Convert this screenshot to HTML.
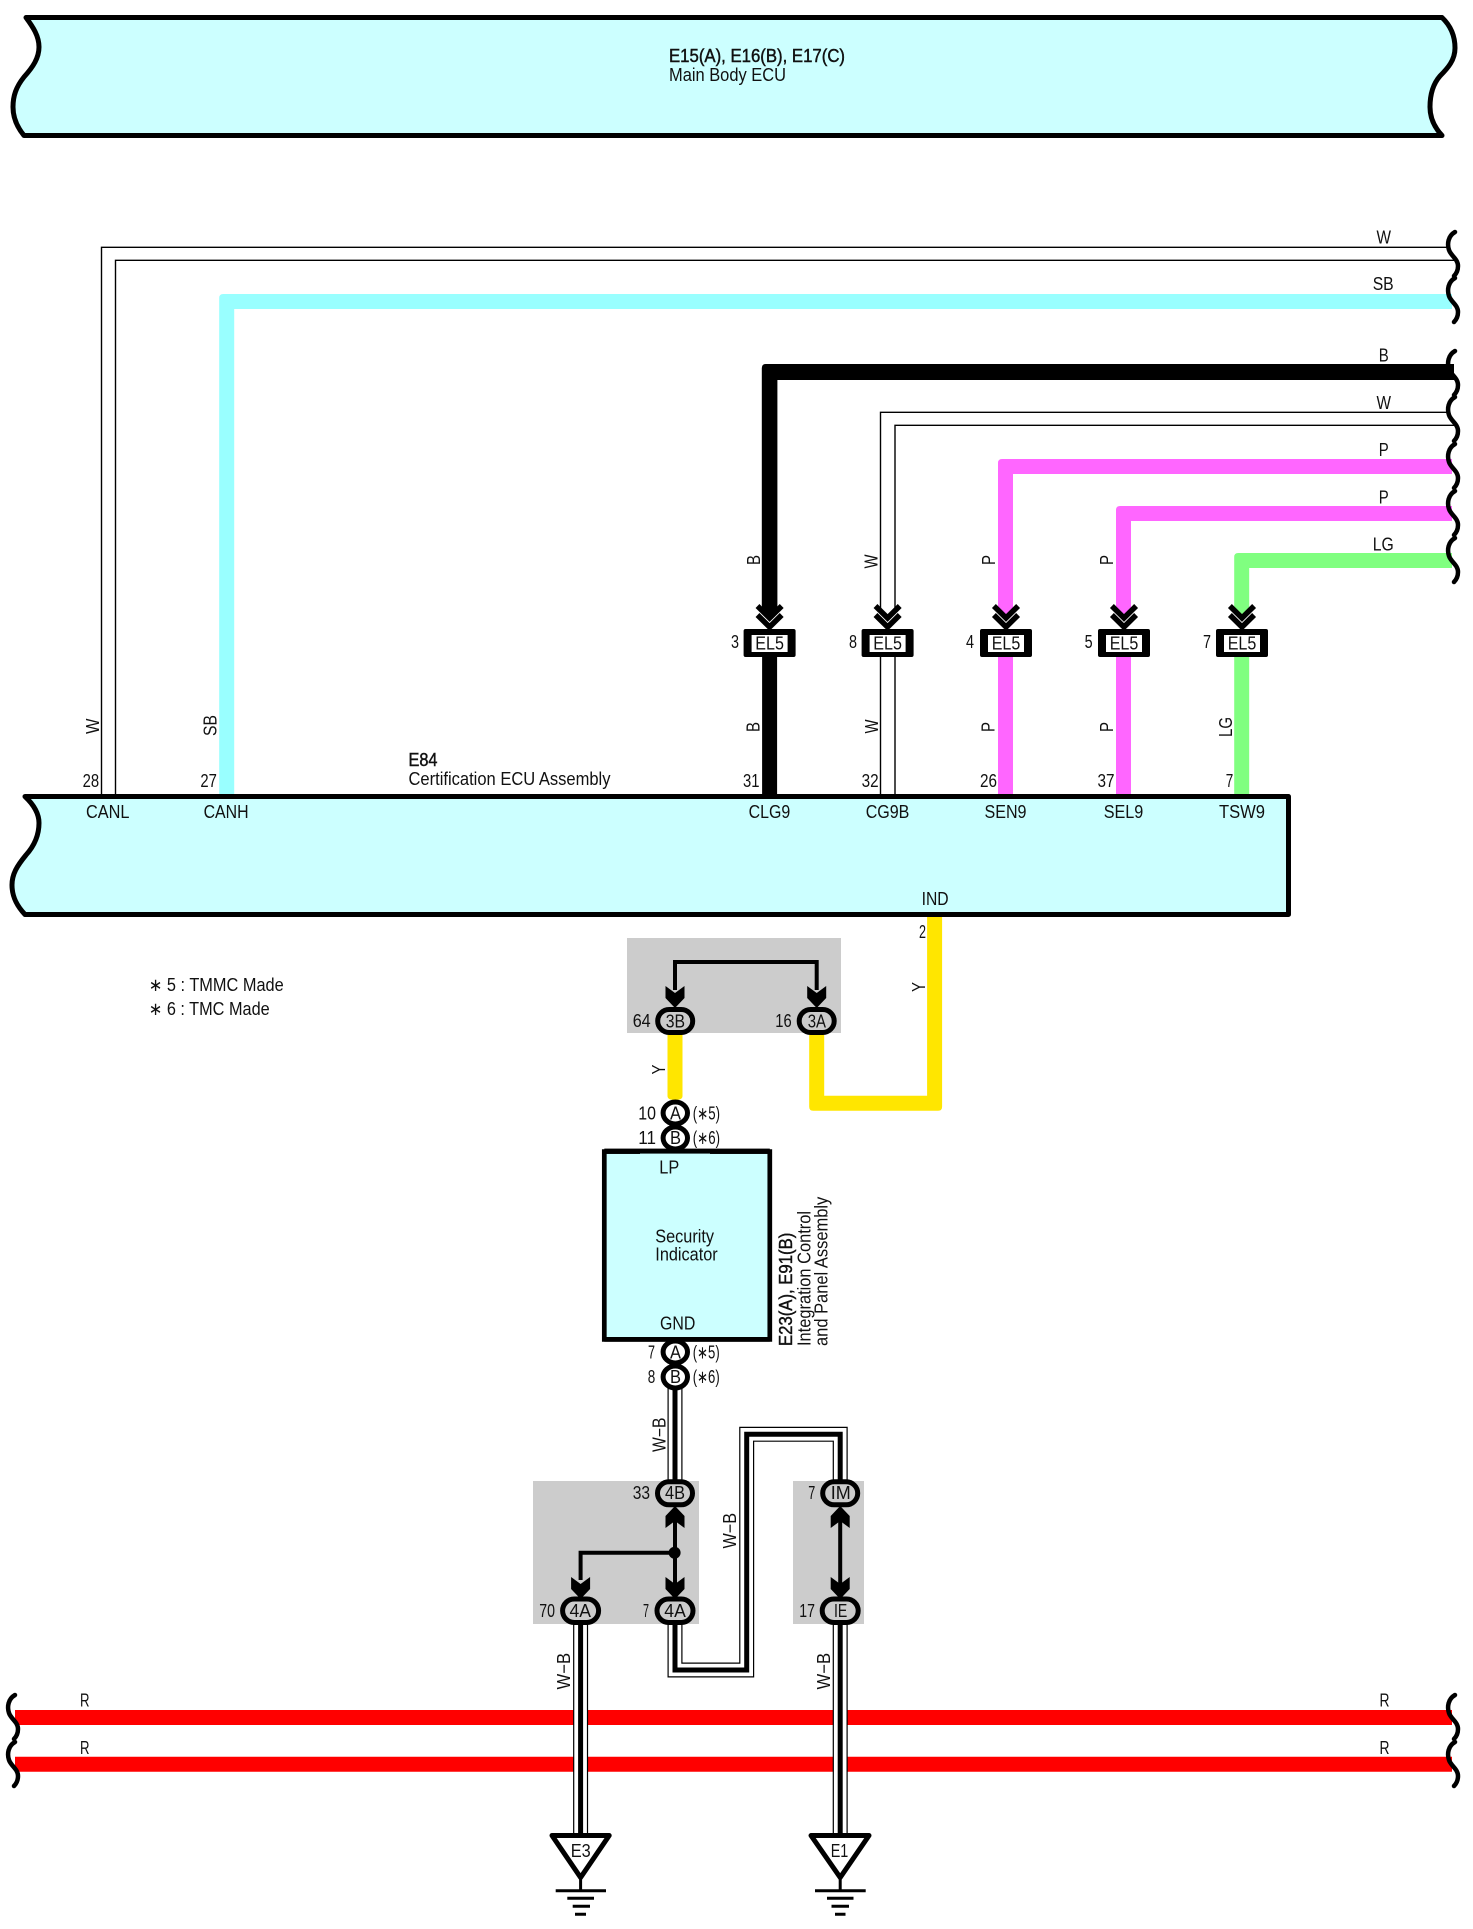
<!DOCTYPE html>
<html><head><meta charset="utf-8"><title>Wiring diagram</title>
<style>
html,body{margin:0;padding:0;background:#fff}
svg{display:block}
text{font-family:"Liberation Sans",sans-serif;font-size:18px;fill:#111}
.b{stroke:#111;stroke-width:.45px}
</style></head><body>
<svg xmlns="http://www.w3.org/2000/svg" width="1473" height="1929" viewBox="0 0 1473 1929">
<rect width="1473" height="1929" fill="#fff"/>

<!-- Main Body ECU band -->
<path d="M26,17.5 H1442 C1452,27 1455,38 1455,48 C1455,60 1448,68 1440,76 C1433,84 1430,95 1430,107 C1430,118 1435,128 1442,135.5 H24 C17,127 13,118 13,107 C13,96 16,87 24,77 C33,67 39,58 39,47 C39,36 33,27 26,17.5 Z" fill="#CCFFFF" stroke="#000" stroke-width="5" stroke-linejoin="round"/>
<!-- E84 band -->
<path d="M25,796.5 H1288.5 V914.5 H25 C17,906 12,897 12,885 C12,874 17,866 26,855 C35,845 39,835 39,823 C39,813 33,804 25,796.5 Z" fill="#CCFFFF" stroke="#000" stroke-width="5" stroke-linejoin="round"/>

<!-- gray boxes -->
<rect x="627" y="938" width="214" height="95" fill="#CCCCCC"/>
<rect x="533" y="1481" width="166" height="143" fill="#CCCCCC"/>
<rect x="793" y="1481" width="71" height="143" fill="#CCCCCC"/>

<!-- wires upper -->
<path d="M1448,247.3 H101.5 V794 M1455,260.3 H115.5 V794" fill="none" stroke="#000" stroke-width="1.4"/>
<path d="M1452,294 H223.2 Q219.2,294 219.2,298 V794 H234.2 V309 H1452 Z" fill="#99FFFF"/>
<path d="M1454,364 H765.8 Q761.8,364 761.8,368 V612 H777.4 V380 H1454 Z" fill="#000"/>
<path d="M769.6,657 V794" fill="none" stroke="#000" stroke-width="15"/>
<path d="M1448,412.3 H880.5 V608 M1455,425.3 H895 V608 M880.5,657 V794 M895,657 V794" fill="none" stroke="#000" stroke-width="1.4"/>
<path d="M1452,459 H1002 Q998,459 998,463 V610 H1013 V474 H1452 Z" fill="#FF66FF"/>
<path d="M1005.5,657 V794" fill="none" stroke="#FF66FF" stroke-width="15"/>
<path d="M1452,506 H1120 Q1116,506 1116,510 V610 H1131 V521 H1452 Z" fill="#FF66FF"/>
<path d="M1123.5,657 V794" fill="none" stroke="#FF66FF" stroke-width="15"/>
<path d="M1452,553 H1238.2 Q1234.2,553 1234.2,557 V610 H1249.2 V568 H1452 Z" fill="#80FF80"/>
<path d="M1241.7,657 V794" fill="none" stroke="#80FF80" stroke-width="15"/>
<!-- yellow -->
<path d="M667.5,1033 V1096 Q667.5,1100 675,1100 Q682.5,1100 682.5,1096 V1033 Z" fill="#FFE600"/>
<path d="M809.2,1033 V1106.8 Q809.2,1110.8 813.2,1110.8 H938.1 Q942.1,1110.8 942.1,1106.8 V917 H927.1 V1095.8 H824.2 V1033 Z" fill="#FFE600"/>

<!-- wire tips in chevrons -->
<g>
<path d="M762.1,610 H777.1 V613 L769.6,621 L762.1,613 Z" fill="#000"/>
<path d="M998,610 H1013 V613 L1005.5,621 L998,613 Z" fill="#FF66FF"/>
<path d="M1116,610 H1131 V613 L1123.5,621 L1116,613 Z" fill="#FF66FF"/>
<path d="M1234.2,610 H1249.2 V613 L1241.7,621 L1234.2,613 Z" fill="#80FF80"/>
</g>

<!-- EL5 connectors -->
<g fill="none" stroke="#000" stroke-width="5.5">
<path d="M757.5,606 L769.6,618 L781.7,606 M757.5,615 L769.6,627 L781.7,615"/>
<path d="M875.5,606 L887.6,618 L899.7,606 M875.5,615 L887.6,627 L899.7,615"/>
<path d="M993.9,606 L1006,618 L1018.1,606 M993.9,615 L1006,627 L1018.1,615"/>
<path d="M1111.9,606 L1124,618 L1136.1,606 M1111.9,615 L1124,627 L1136.1,615"/>
<path d="M1229.9,606 L1242,618 L1254.1,606 M1229.9,615 L1242,627 L1254.1,615"/>
</g>
<g fill="#000">
<rect x="743.6" y="629" width="52" height="28" rx="2"/>
<rect x="861.6" y="629" width="52" height="28" rx="2"/>
<rect x="980" y="629" width="52" height="28" rx="2"/>
<rect x="1098" y="629" width="52" height="28" rx="2"/>
<rect x="1216" y="629" width="52" height="28" rx="2"/>
</g>
<g fill="#fff">
<rect x="751.6" y="635" width="36" height="17"/>
<rect x="869.6" y="635" width="36" height="17"/>
<rect x="988" y="635" width="36" height="17"/>
<rect x="1106" y="635" width="36" height="17"/>
<rect x="1224" y="635" width="36" height="17"/>
</g>

<!-- red wires -->
<path d="M15,1717.5 H1452 M15,1764.2 H1452" stroke="#FF0000" stroke-width="15" fill="none"/>

<!-- W-B double wires -->
<g fill="none" stroke-linejoin="miter">
<path d="M675,1385 V1482 M675,1622 V1670 H746.7 V1434.3 H840.2 V1482 M580.6,1622 V1836 M840.2,1622 V1836" stroke="#000" stroke-width="15"/>
<path d="M675,1385 V1482 M675,1622 V1670 H746.7 V1434.3 H840.2 V1482 M580.6,1622 V1836 M840.2,1622 V1836" stroke="#fff" stroke-width="12.6"/>
<path d="M675,1385 V1482 M675,1622 V1670 H746.7 V1434.3 H840.2 V1482 M580.6,1622 V1836 M840.2,1622 V1836" stroke="#000" stroke-width="5"/>
</g>

<!-- black internal wires -->
<g fill="none" stroke="#000" stroke-width="4">
<path d="M675,990 V962 H816.7 V990"/>
<path d="M675,1510 V1595 M675,1552.7 H580.6 V1580"/>
<path d="M840.2,1510 V1595"/>
</g>
<circle cx="674.6" cy="1552.7" r="6" fill="#000"/>
<g fill="#000">
<path d="M665.5,986 L675,993 L684.5,986 V998 L675,1008 L665.5,998 Z"/>
<path d="M807.2,986 L816.7,993 L826.2,986 V998 L816.7,1008 L807.2,998 Z"/>
<path d="M571.1,1577 L580.6,1584 L590.1,1577 V1589 L580.6,1599 L571.1,1589 Z"/>
<path d="M665.5,1577 L675,1584 L684.5,1577 V1589 L675,1599 L665.5,1589 Z"/>
<path d="M830.7,1577 L840.2,1584 L849.7,1577 V1589 L840.2,1599 L830.7,1589 Z"/>
<path d="M665.5,1528 L675,1521 L684.5,1528 V1516 L675,1506 L665.5,1516 Z"/>
<path d="M830.7,1528 L840.2,1521 L849.7,1528 V1516 L840.2,1506 L830.7,1516 Z"/>
</g>

<!-- ovals -->
<g fill="#CCCCCC" stroke="#000" stroke-width="5">
<rect x="657.7" y="1009.5" width="35" height="23" rx="11.5"/>
<rect x="799.2" y="1009.5" width="35" height="23" rx="11.5"/>
<rect x="657.5" y="1481.8" width="35" height="23" rx="11.5"/>
<rect x="822.7" y="1481.8" width="35" height="23" rx="11.5"/>
<rect x="562.6" y="1599" width="36" height="23.5" rx="11.7"/>
<rect x="657" y="1599" width="36" height="23.5" rx="11.7"/>
<rect x="822.2" y="1599" width="36" height="23.5" rx="11.7"/>
</g>

<!-- Security Indicator box -->
<rect x="604.3" y="1151.6" width="165.5" height="187.8" fill="#CCFFFF" stroke="#000" stroke-width="4.7"/>

<!-- round connectors -->
<g fill="#fff" stroke="#000" stroke-width="5">
<ellipse cx="675.3" cy="1113" rx="12.2" ry="11"/>
<ellipse cx="675.3" cy="1138" rx="12.2" ry="11"/>
<ellipse cx="675.3" cy="1352" rx="12.2" ry="11"/>
<ellipse cx="675.3" cy="1377" rx="12.2" ry="11"/>
</g>
<rect x="604.3" y="1148.6" width="165.5" height="5" fill="#000"/>
<rect x="640" y="1153.6" width="70" height="4" fill="#CCFFFF"/>
<rect x="604.3" y="1337" width="165.5" height="4.7" fill="#000"/>

<!-- ground symbols -->
<g fill="#fff" stroke="#000" stroke-width="5" stroke-linejoin="round">
<path d="M552,1835.5 H609.2 L580.6,1877.5 Z"/>
<path d="M811,1835.5 H869 L840.2,1877.5 Z"/>
</g>
<g fill="none" stroke="#000" stroke-width="3">
<path d="M580.6,1878 V1891 M555.7,1890.7 H606 M567.3,1898.3 H594 M572.7,1906.3 H590 M575,1914.3 H586"/>
<path d="M840.2,1878 V1891 M815,1890.7 H865.7 M827,1898.3 H853.5 M831.5,1906.3 H849 M835,1914.3 H845.5"/>
</g>

<!-- wavy ends -->
<g fill="none" stroke="#000" stroke-width="4.5" stroke-linecap="round">
<path transform="translate(1448,232)" d="M7,0 C0,4 -1,12 1,18 C3,24 10,27 10,34 C10,39 8,42 6,44"/>
<path transform="translate(1448,278)" d="M7,0 C0,4 -1,12 1,18 C3,24 10,27 10,34 C10,39 8,42 6,44"/>
<path transform="translate(1448,351)" d="M7,0 C0,4 -1,12 1,18 C3,24 10,27 10,34 C10,39 8,42 6,44"/>
<path transform="translate(1448,397)" d="M7,0 C0,4 -1,12 1,18 C3,24 10,27 10,34 C10,39 8,42 6,44"/>
<path transform="translate(1448,444)" d="M7,0 C0,4 -1,12 1,18 C3,24 10,27 10,34 C10,39 8,42 6,44"/>
<path transform="translate(1448,491)" d="M7,0 C0,4 -1,12 1,18 C3,24 10,27 10,34 C10,39 8,42 6,44"/>
<path transform="translate(1448,538)" d="M7,0 C0,4 -1,12 1,18 C3,24 10,27 10,34 C10,39 8,42 6,44"/>
<path transform="translate(8,1695)" d="M7,0 C0,4 -1,12 1,18 C3,24 10,27 10,34 C10,39 8,42 6,44"/>
<path transform="translate(8,1742)" d="M7,0 C0,4 -1,12 1,18 C3,24 10,27 10,34 C10,39 8,42 6,44"/>
<path transform="translate(1448,1695)" d="M7,0 C0,4 -1,12 1,18 C3,24 10,27 10,34 C10,39 8,42 6,44"/>
<path transform="translate(1448,1742)" d="M7,0 C0,4 -1,12 1,18 C3,24 10,27 10,34 C10,39 8,42 6,44"/>
</g>

<!-- titles -->
<text class="b" x="669" y="62" textLength="176" lengthAdjust="spacingAndGlyphs">E15(A), E16(B), E17(C)</text>
<text x="669" y="81" textLength="117" lengthAdjust="spacingAndGlyphs">Main Body ECU</text>
<text class="b" x="408.5" y="766" textLength="29" lengthAdjust="spacingAndGlyphs">E84</text>
<text x="408.5" y="785" textLength="202" lengthAdjust="spacingAndGlyphs">Certification ECU Assembly</text>
<text x="148.7" y="991" textLength="135" lengthAdjust="spacingAndGlyphs">∗ 5 : TMMC Made</text>
<text x="148.7" y="1015" textLength="121" lengthAdjust="spacingAndGlyphs">∗ 6 : TMC Made</text>

<!-- right labels -->
<text x="1376.5" y="243.5" textLength="14.5" lengthAdjust="spacingAndGlyphs">W</text>
<text x="1372.7" y="290" textLength="21" lengthAdjust="spacingAndGlyphs">SB</text>
<text x="1378.7" y="361.5" textLength="10" lengthAdjust="spacingAndGlyphs">B</text>
<text x="1376.5" y="409" textLength="14.5" lengthAdjust="spacingAndGlyphs">W</text>
<text x="1378.7" y="456" textLength="10" lengthAdjust="spacingAndGlyphs">P</text>
<text x="1378.7" y="503.3" textLength="10" lengthAdjust="spacingAndGlyphs">P</text>
<text x="1372.7" y="550.7" textLength="21" lengthAdjust="spacingAndGlyphs">LG</text>

<!-- rotated wire labels upper -->
<text transform="translate(760,565) rotate(-90)" textLength="10" lengthAdjust="spacingAndGlyphs">B</text>
<text transform="translate(877.5,568.5) rotate(-90)" textLength="14" lengthAdjust="spacingAndGlyphs">W</text>
<text transform="translate(995,565) rotate(-90)" textLength="10" lengthAdjust="spacingAndGlyphs">P</text>
<text transform="translate(1113,565) rotate(-90)" textLength="10" lengthAdjust="spacingAndGlyphs">P</text>

<!-- EL5 labels -->
<text x="731" y="648" textLength="8" lengthAdjust="spacingAndGlyphs">3</text>
<text x="849" y="648" textLength="8" lengthAdjust="spacingAndGlyphs">8</text>
<text x="966" y="648" textLength="8" lengthAdjust="spacingAndGlyphs">4</text>
<text x="1084.6" y="648" textLength="8" lengthAdjust="spacingAndGlyphs">5</text>
<text x="1203" y="648" textLength="8" lengthAdjust="spacingAndGlyphs">7</text>
<text x="755.3" y="649.5" textLength="28.6" lengthAdjust="spacingAndGlyphs">EL5</text>
<text x="873.3" y="649.5" textLength="28.6" lengthAdjust="spacingAndGlyphs">EL5</text>
<text x="991.7" y="649.5" textLength="28.6" lengthAdjust="spacingAndGlyphs">EL5</text>
<text x="1109.7" y="649.5" textLength="28.6" lengthAdjust="spacingAndGlyphs">EL5</text>
<text x="1227.7" y="649.5" textLength="28.6" lengthAdjust="spacingAndGlyphs">EL5</text>

<!-- rotated labels lower -->
<text transform="translate(99,734) rotate(-90)" textLength="15.5" lengthAdjust="spacingAndGlyphs">W</text>
<text transform="translate(216.5,736) rotate(-90)" textLength="21" lengthAdjust="spacingAndGlyphs">SB</text>
<text transform="translate(759.6,732) rotate(-90)" textLength="10" lengthAdjust="spacingAndGlyphs">B</text>
<text transform="translate(878,733.5) rotate(-90)" textLength="14" lengthAdjust="spacingAndGlyphs">W</text>
<text transform="translate(994.7,732) rotate(-90)" textLength="10" lengthAdjust="spacingAndGlyphs">P</text>
<text transform="translate(1113,732) rotate(-90)" textLength="10" lengthAdjust="spacingAndGlyphs">P</text>
<text transform="translate(1232,737) rotate(-90)" textLength="20" lengthAdjust="spacingAndGlyphs">LG</text>

<!-- pin numbers -->
<text x="82.6" y="787" textLength="16.5" lengthAdjust="spacingAndGlyphs">28</text>
<text x="200.4" y="787" textLength="16.5" lengthAdjust="spacingAndGlyphs">27</text>
<text x="743" y="787" textLength="16.5" lengthAdjust="spacingAndGlyphs">31</text>
<text x="861.6" y="787" textLength="17" lengthAdjust="spacingAndGlyphs">32</text>
<text x="980" y="787" textLength="17" lengthAdjust="spacingAndGlyphs">26</text>
<text x="1097.5" y="787" textLength="17" lengthAdjust="spacingAndGlyphs">37</text>
<text x="1225.7" y="787" textLength="7.5" lengthAdjust="spacingAndGlyphs">7</text>

<!-- pin names -->
<text x="86" y="818" textLength="43.5" lengthAdjust="spacingAndGlyphs">CANL</text>
<text x="203.6" y="818" textLength="45" lengthAdjust="spacingAndGlyphs">CANH</text>
<text x="748.6" y="818" textLength="41.6" lengthAdjust="spacingAndGlyphs">CLG9</text>
<text x="865.7" y="818" textLength="43.7" lengthAdjust="spacingAndGlyphs">CG9B</text>
<text x="984.5" y="818" textLength="42" lengthAdjust="spacingAndGlyphs">SEN9</text>
<text x="1103.7" y="818" textLength="39.6" lengthAdjust="spacingAndGlyphs">SEL9</text>
<text x="1219" y="818" textLength="46" lengthAdjust="spacingAndGlyphs">TSW9</text>
<text x="921.6" y="905" textLength="27" lengthAdjust="spacingAndGlyphs">IND</text>
<text x="919" y="938" textLength="7" lengthAdjust="spacingAndGlyphs">2</text>
<text transform="translate(925,992) rotate(-90)" textLength="10" lengthAdjust="spacingAndGlyphs">Y</text>
<text transform="translate(665,1074.5) rotate(-90)" textLength="10" lengthAdjust="spacingAndGlyphs">Y</text>

<!-- ovals labels -->
<text x="632.7" y="1027" textLength="18" lengthAdjust="spacingAndGlyphs">64</text>
<text x="665.7" y="1027.3" textLength="19.3" lengthAdjust="spacingAndGlyphs">3B</text>
<text x="775.3" y="1027" textLength="16.4" lengthAdjust="spacingAndGlyphs">16</text>
<text x="807.7" y="1027.3" textLength="18.3" lengthAdjust="spacingAndGlyphs">3A</text>

<text x="638.3" y="1119.5" textLength="17.7" lengthAdjust="spacingAndGlyphs">10</text>
<text x="670" y="1119.5" textLength="11" lengthAdjust="spacingAndGlyphs">A</text>
<text x="692.7" y="1119.5" textLength="27.3" lengthAdjust="spacingAndGlyphs">(∗5)</text>
<text x="638.3" y="1144" textLength="17.7" lengthAdjust="spacingAndGlyphs">11</text>
<text x="670" y="1144" textLength="11" lengthAdjust="spacingAndGlyphs">B</text>
<text x="692.7" y="1144" textLength="27.3" lengthAdjust="spacingAndGlyphs">(∗6)</text>

<text x="659.3" y="1173.3" textLength="20" lengthAdjust="spacingAndGlyphs">LP</text>
<text x="655.3" y="1242.7" textLength="58.7" lengthAdjust="spacingAndGlyphs">Security</text>
<text x="655.3" y="1260.7" textLength="62.4" lengthAdjust="spacingAndGlyphs">Indicator</text>
<text x="660" y="1329.3" textLength="35.3" lengthAdjust="spacingAndGlyphs">GND</text>

<text class="b" transform="translate(792,1346) rotate(-90)" textLength="113.3" lengthAdjust="spacingAndGlyphs">E23(A), E91(B)</text>
<text transform="translate(810.7,1346) rotate(-90)" textLength="135" lengthAdjust="spacingAndGlyphs">Integration Control</text>
<text transform="translate(827.7,1346) rotate(-90)" textLength="149.3" lengthAdjust="spacingAndGlyphs">and Panel Assembly</text>

<text x="648" y="1358.3" textLength="7" lengthAdjust="spacingAndGlyphs">7</text>
<text x="670" y="1358.5" textLength="11" lengthAdjust="spacingAndGlyphs">A</text>
<text x="692.7" y="1358.3" textLength="27" lengthAdjust="spacingAndGlyphs">(∗5)</text>
<text x="647.7" y="1382.8" textLength="7.5" lengthAdjust="spacingAndGlyphs">8</text>
<text x="670" y="1382.8" textLength="11" lengthAdjust="spacingAndGlyphs">B</text>
<text x="692.7" y="1382.8" textLength="27" lengthAdjust="spacingAndGlyphs">(∗6)</text>

<text transform="translate(665.7,1452) rotate(-90)" textLength="34.5" lengthAdjust="spacingAndGlyphs">W−B</text>
<text transform="translate(736,1548.5) rotate(-90)" textLength="35.6" lengthAdjust="spacingAndGlyphs">W−B</text>
<text transform="translate(570,1689.5) rotate(-90)" textLength="36.6" lengthAdjust="spacingAndGlyphs">W−B</text>
<text transform="translate(830,1689.5) rotate(-90)" textLength="36.6" lengthAdjust="spacingAndGlyphs">W−B</text>

<text x="632.7" y="1499" textLength="17.3" lengthAdjust="spacingAndGlyphs">33</text>
<text x="665" y="1499" textLength="20" lengthAdjust="spacingAndGlyphs">4B</text>
<text x="808.3" y="1499" textLength="7" lengthAdjust="spacingAndGlyphs">7</text>
<text x="830.7" y="1499" textLength="20" lengthAdjust="spacingAndGlyphs">IM</text>
<text x="539.3" y="1617" textLength="15.7" lengthAdjust="spacingAndGlyphs">70</text>
<text x="569.5" y="1617" textLength="21.5" lengthAdjust="spacingAndGlyphs">4A</text>
<text x="643" y="1617" textLength="6" lengthAdjust="spacingAndGlyphs">7</text>
<text x="664.3" y="1617" textLength="21.5" lengthAdjust="spacingAndGlyphs">4A</text>
<text x="799.3" y="1617" textLength="15.7" lengthAdjust="spacingAndGlyphs">17</text>
<text x="834" y="1617" textLength="13.3" lengthAdjust="spacingAndGlyphs">IE</text>

<text x="80" y="1706.7" textLength="9.5" lengthAdjust="spacingAndGlyphs">R</text>
<text x="80" y="1754" textLength="9.5" lengthAdjust="spacingAndGlyphs">R</text>
<text x="1379.5" y="1706.7" textLength="10" lengthAdjust="spacingAndGlyphs">R</text>
<text x="1379.5" y="1754" textLength="10" lengthAdjust="spacingAndGlyphs">R</text>

<text x="570.7" y="1857" textLength="20" lengthAdjust="spacingAndGlyphs">E3</text>
<text x="830.7" y="1857" textLength="17.6" lengthAdjust="spacingAndGlyphs">E1</text>
</svg>
</body></html>
